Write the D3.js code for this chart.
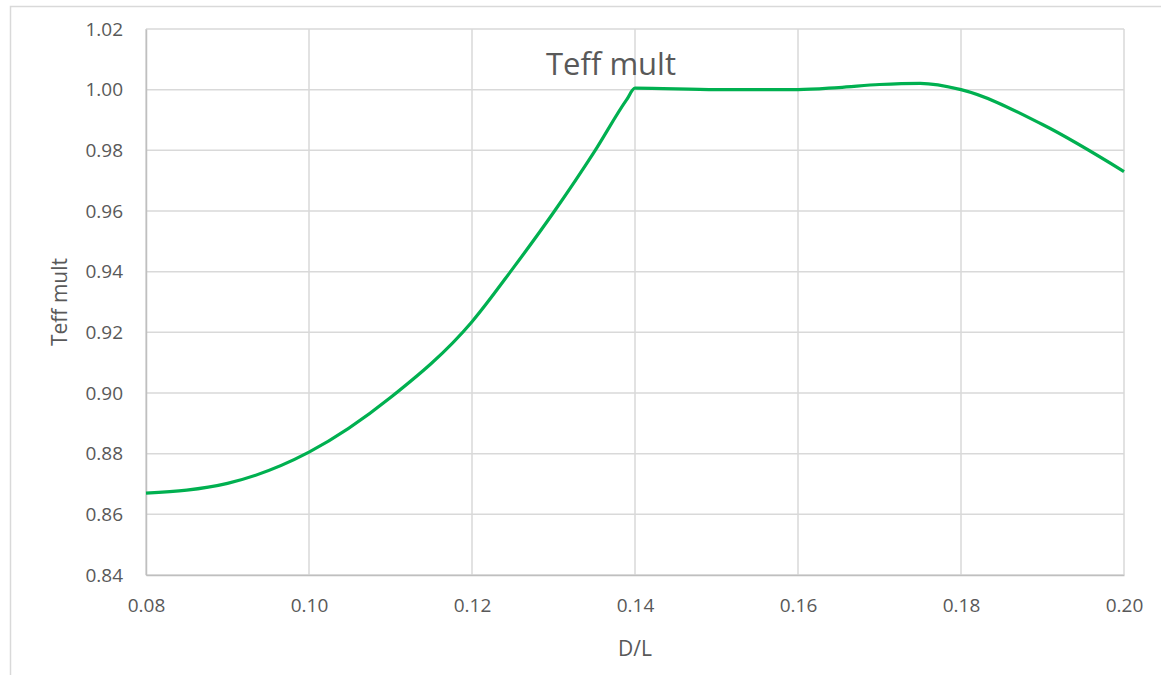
<!DOCTYPE html>
<html>
<head>
<meta charset="utf-8">
<script src="https://cdn.jsdelivr.net/npm/d3@7"></script>
<style>
  body { margin: 0; background: #fff; }
  svg { display: block; font-family: "Open Sans", Lato, sans-serif; }
</style>
</head>
<body>
<svg width="1161" height="675"></svg>
<script>
"use strict";

// D/L values and the matching Teff mult readings
const dl = [0.08, 0.09, 0.10, 0.11, 0.12, 0.125, 0.13, 0.135, 0.139, 0.14, 0.15, 0.16, 0.165, 0.17, 0.175, 0.18, 0.19, 0.20];
const teff = [0.867, 0.8702, 0.8805, 0.8985, 0.9235, 0.941, 0.9595, 0.9795, 0.9968, 1.0005, 1.0, 1.0, 1.0007, 1.0017, 1.0021, 1.0, 0.9885, 0.973];

const xTicks = [0.08, 0.10, 0.12, 0.14, 0.16, 0.18, 0.20];
const yTicks = [0.84, 0.86, 0.88, 0.90, 0.92, 0.94, 0.96, 0.98, 1.00, 1.02];

const svg = d3.select("svg");

// chart area outline (left and top edges only are visible)
svg.append("path")
  .attr("d", "M10.5,675V6.5H1161")
  .attr("fill", "none")
  .attr("stroke", "#d9d9d9")
  .attr("stroke-width", 1.5);

const margin = { top: 29, left: 146, right: 37, bottom: 100 };
const width = 1161, height = 675;
const innerWidth = width - margin.left - margin.right;
const innerHeight = height - margin.top - margin.bottom;

const x = d3.scaleLinear().domain([0.08, 0.20]).range([0, innerWidth]);
const y = d3.scaleLinear().domain([0.84, 1.02]).range([innerHeight, 0]);

const g = svg.append("g").attr("transform", `translate(${margin.left},${margin.top})`);

// gridlines
g.append("g")
  .selectAll("line")
  .data(yTicks)
  .enter()
  .append("line")
  .attr("x1", 0).attr("x2", innerWidth)
  .attr("y1", (d) => y(d)).attr("y2", (d) => y(d))
  .attr("stroke", "#d9d9d9")
  .attr("stroke-width", 1.5);

g.append("g")
  .selectAll("line")
  .data(xTicks)
  .enter()
  .append("line")
  .attr("x1", (d) => x(d)).attr("x2", (d) => x(d))
  .attr("y1", 0).attr("y2", innerHeight)
  .attr("stroke", "#d9d9d9")
  .attr("stroke-width", 1.5);

// axes
const yAxis = d3.axisLeft(y).tickValues(yTicks).tickFormat(d3.format(".2f")).tickSize(0).tickPadding(23);
const xAxis = d3.axisBottom(x).tickValues(xTicks).tickFormat(d3.format(".2f")).tickSize(0).tickPadding(24);

const yAxisGroup = g.append("g").call(yAxis);
yAxisGroup.select(".domain").attr("stroke", "#bfbfbf").attr("stroke-width", 1.5);

const xAxisGroup = g.append("g").attr("transform", `translate(0,${innerHeight})`).call(xAxis);
xAxisGroup.select(".domain").attr("stroke", "#bfbfbf").attr("stroke-width", 1.5);

svg.selectAll(".tick text")
  .attr("fill", "#595959")
  .style("font-size", "19px")
  .style("font-family", "'Open Sans', Lato, sans-serif");

// the line
const line = d3.line()
  .x((d, i) => x(dl[i]))
  .y((d) => y(d))
  .curve(d3.curveMonotoneX);

g.append("path")
  .datum(teff)
  .attr("d", line)
  .attr("fill", "none")
  .attr("stroke", "#00b050")
  .attr("stroke-width", 3.2)
  .attr("stroke-linejoin", "round");

// titles
svg.append("text")
  .attr("x", 611).attr("y", 75)
  .attr("text-anchor", "middle")
  .attr("fill", "#595959")
  .style("font-size", "31px")
  .text("Teff mult");

svg.append("text")
  .attr("transform", `translate(67,${margin.top + innerHeight / 2}) rotate(-90)`)
  .attr("text-anchor", "middle")
  .attr("fill", "#595959")
  .style("font-size", "21px")
  .text("Teff mult");

svg.append("text")
  .attr("x", margin.left + innerWidth / 2).attr("y", 656)
  .attr("text-anchor", "middle")
  .attr("fill", "#595959")
  .style("font-size", "21px")
  .text("D/L");
</script>
</body>
</html>
